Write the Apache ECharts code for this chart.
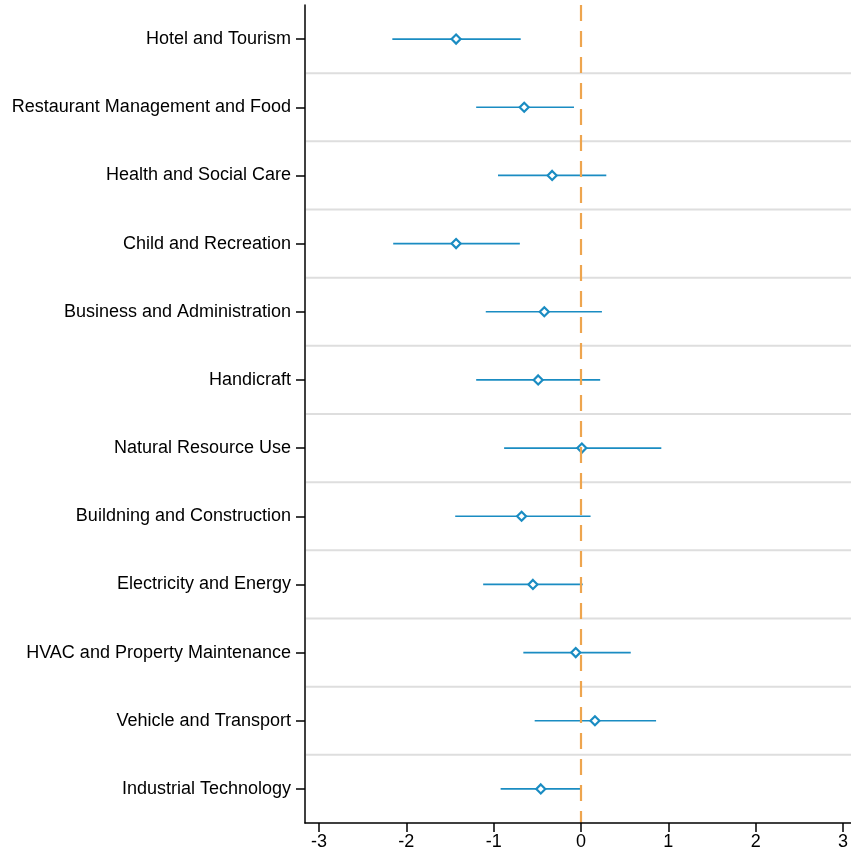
<!DOCTYPE html>
<html>
<head>
<meta charset="utf-8">
<script src="https://cdn.jsdelivr.net/npm/echarts@6/dist/echarts.min.js"></script>
<style>html,body{margin:0;padding:0;background:#fff}#c{width:851px;height:856px}</style>
</head>
<body>
<div id="c"></div>
<script>
const categories = ["Hotel and Tourism","Restaurant Management and Food","Health and Social Care","Child and Recreation","Business and Administration","Handicraft","Natural Resource Use","Buildning and Construction","Electricity and Energy","HVAC and Property Maintenance","Vehicle and Transport","Industrial Technology"];
const estimates = [-1.43,-0.65,-0.33,-1.43,-0.42,-0.49,0.01,-0.68,-0.55,-0.06,0.16,-0.46];
const lower = [-2.16,-1.20,-0.95,-2.15,-1.09,-1.20,-0.88,-1.44,-1.12,-0.66,-0.53,-0.92];
const upper = [-0.69,-0.08,0.29,-0.70,0.24,0.22,0.92,0.11,0.02,0.57,0.86,-0.01];
const xTicks = [-3,-2,-1,0,1,2,3];
const refValue = 0;

const blue = '#1a8cc2';
const orange = '#eea54e';
const font = '"Liberation Sans", Arial, sans-serif';

const chart = echarts.init(document.getElementById('c'), null, {renderer: 'canvas'});
chart.setOption({
  animation: false,
  grid: {left: 305, right: 0, top: 5, bottom: 33, containLabel: false},
  xAxis: {
    type: 'value', min: -3.16, max: 3.092, interval: 1, z: 5,
    splitLine: {show: false},
    axisLine: {show: true, onZero: false, lineStyle: {color: '#000', width: 1.5}},
    axisTick: {show: true, length: 9, lineStyle: {color: '#000', width: 1.5}, customValues: xTicks},
    axisLabel: {color: '#000', fontFamily: font, fontSize: 18, margin: 10, customValues: xTicks, formatter: v => String(v)}
  },
  yAxis: {
    type: 'category', data: categories, inverse: true, boundaryGap: true, z: 5,
    axisLine: {show: true, onZero: false, lineStyle: {color: '#000', width: 1.5}},
    axisTick: {show: true, alignWithLabel: true, length: 9, lineStyle: {color: '#000', width: 1.5}},
    axisLabel: {color: '#000', fontFamily: font, fontSize: 18, margin: 14, padding: [3, 0, 0, 0]},
    splitLine: {show: false}
  },
  series: [
    {
      type: 'custom', z: 1,
      data: categories.map((c, i) => [i]),
      renderItem: function (params, api) {
        const i = api.value(0);
        if (i >= categories.length - 1) return null;
        const cs = params.coordSys;
        const p = api.coord([0, i]);
        const h = api.size([0, 1])[1];
        const y = p[1] + h / 2;
        return {type: 'line', shape: {x1: cs.x + 1, y1: y, x2: cs.x + cs.width, y2: y},
          style: {stroke: '#dedede', lineWidth: 2}};
      }
    },
    {
      type: 'custom', z: 2,
      data: categories.map((c, i) => [i, lower[i], upper[i]]),
      renderItem: function (params, api) {
        const i = api.value(0);
        const a = api.coord([api.value(1), i]);
        const b = api.coord([api.value(2), i]);
        return {type: 'line', shape: {x1: a[0], y1: a[1], x2: b[0], y2: b[1]},
          style: {stroke: blue, lineWidth: 1.6}};
      }
    },
    {
      type: 'line', z: 3, data: [], symbol: 'none',
      markLine: {
        silent: true, symbol: ['none','none'], label: {show: false},
        lineStyle: {color: orange, width: 2.2, type: [16, 10]},
        data: [{xAxis: refValue}]
      }
    },
    {
      type: 'scatter', z: 4,
      data: categories.map((c, i) => [estimates[i], c]),
      symbol: 'diamond', symbolSize: [9, 9],
      itemStyle: {color: '#fff', borderColor: blue, borderWidth: 2.2, opacity: 1}
    }
  ]
});
</script>
</body>
</html>
